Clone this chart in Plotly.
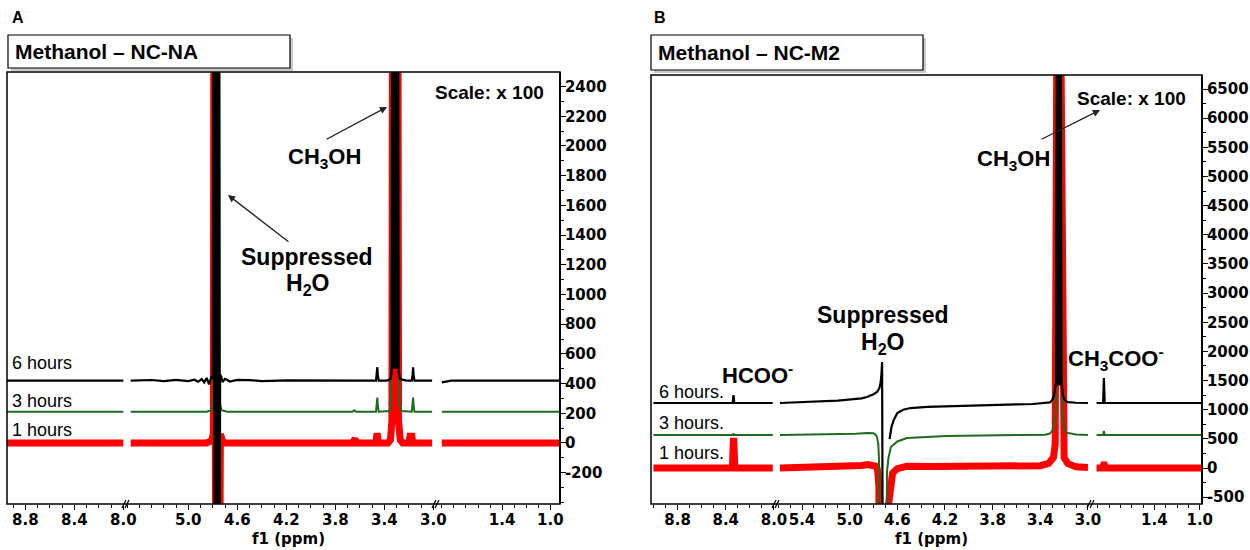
import plotly.graph_objects as go

W, H = 1250, 550

# ---------------- data (ppm / intensity relative to each trace's offset) ----------------
# Panel A : Methanol - NC-NA
A_SEGMENTS = [(8.95, 7.97), (5.50, 2.97), (1.94, 0.92)]
A_XTICKS = [[8.8, 8.4, 8.0], [5.0, 4.6, 4.2, 3.8, 3.4, 3.0], [1.4, 1.0]]
A_YTICKS = list(range(-200, 2401, 200))
A_YRANGE = [-411, 2498]
A_OFFSETS = [420, 210, 0]          # 6 h, 3 h, 1 h
A_LABELS = ["6 hours", "3 hours", "1 hours"]

A_6H_PPM = [8.95, 8.00,
            5.47, 5.30, 5.20, 5.10, 5.00, 4.95, 4.92, 4.89, 4.87, 4.85, 4.83, 4.81, 4.80,
            4.792, 4.785, 4.778, 4.771, 4.764, 4.757, 4.750, 4.744, 4.740,
            4.73, 4.72, 4.70, 4.66, 4.60, 4.50, 4.40, 4.20, 4.00, 3.80, 3.60, 3.50,
            3.468, 3.461, 3.457, 3.453, 3.446, 3.38, 3.35, 3.340,
            3.334, 3.327, 3.320, 3.312, 3.305, 3.297, 3.290,
            3.283, 3.270, 3.22, 3.176, 3.169, 3.165, 3.161, 3.154, 3.10, 3.01,
            1.90, 1.87, 1.82, 1.75, 0.92]
A_6H_VAL = [0, 0,
            0, 4, -4, 5, -3, 6, -8, 10, -12, 18, -25, 30, 10,
            4000, -1500, 4000, -1500, 4000, -1500, 4000, -1500, 40,
            25, -10, 12, -6, 5, 3, -3, 2, 0, 2, 0, 0,
            0, 40, 90, 40, 0, 0, 10, 60,
            4000, 80, 4000, 80, 4000, 80, 4000,
            60, 10, 0, 0, 40, 90, 40, 0, 0, 0,
            -12, -6, 0, 0, 0]

A_3H_PPM = [8.95, 8.00,
            5.47, 4.85, 4.81, 4.795, 4.790, 4.748, 4.742, 4.73, 4.68,
            3.66, 3.645, 3.63, 3.468, 3.461, 3.457, 3.453, 3.446,
            3.36, 3.345, 3.333, 3.291, 3.280, 3.26,
            3.176, 3.169, 3.165, 3.161, 3.154, 3.01,
            1.90, 0.92]
A_3H_VAL = [0, 0,
            0, 0, 10, 60, 4000, 4000, 60, 10, 0,
            0, 10, 0, 0, 45, 95, 45, 0,
            5, 60, 4000, 4000, 60, 5,
            0, 45, 95, 45, 0, 0,
            0, 0]

A_1H_PPM = [8.95, 8.00,
            5.47, 4.85, 4.81, 4.795, 4.790, 4.775, 4.745, 4.738, 4.72, 4.70,
            3.66, 3.645, 3.638, 3.63, 3.47, 3.462, 3.455, 3.447,
            3.37, 3.35, 3.338, 3.332, 3.290, 3.284, 3.27, 3.25,
            3.20, 3.19, 3.175, 3.168, 3.01,
            1.90, 0.92]
A_1H_VAL = [0, 0,
            0, 0, 15, 60, 4000, -1500, -1500, 60, 15, 0,
            0, 30, 30, 0, 0, 45, 45, 0,
            0, 20, 150, 4000, 4000, 150, 20, 0,
            0, 45, 45, 0, 0,
            0, 0]

# Panel B : Methanol - NC-M2
B_SEGMENTS = [(9.02, 7.975), (5.61, 2.966), (1.95, 0.98)]
B_XTICKS = [[8.8, 8.4, 8.0], [5.4, 5.0, 4.6, 4.2, 3.8, 3.4, 3.0], [1.4, 1.0]]
B_YTICKS = list(range(-500, 6501, 500))
B_YRANGE = [-617, 6741]
B_OFFSETS = [1115, 566, 0]
B_LABELS = ["6 hours.", "3 hours.", "1 hours."]

B_6H_PPM = [9.00, 8.343, 8.336, 8.329, 8.01,
            5.585, 5.40, 5.10, 4.90, 4.855, 4.80, 4.77, 4.75, 4.74, 4.733, 4.728, 4.722,
            4.69,
            4.665, 4.65, 4.63, 4.60, 4.55, 4.49, 4.35, 4.16, 3.90, 3.60, 3.46, 3.36,
            3.32, 3.30, 3.285, 3.268,
            3.259, 3.251, 3.244, 3.237, 3.229,
            3.222, 3.21, 3.195, 3.17, 3.10, 3.00,
            1.91, 1.852, 1.845, 1.838, 0.98]
B_6H_VAL = [0, 0, 135, 0, 0,
            0, 15, 40, 80, 103, 150, 190, 260, 350, 500, 703, -3000,
            None,
            -620, -420, -290, -172, -115, -86, -65, -52, -38, -22, -17, -5,
            10, 50, 130, 350,
            7000, 300, 7000, 300, 7000,
            350, 130, 50, 15, 5, 0,
            0, 0, 430, 0, 0]

B_3H_PPM = [9.00, 8.342, 8.336, 8.330, 8.01,
            5.585, 5.20, 4.95, 4.85, 4.80, 4.78, 4.77, 4.76, 4.754, 4.748,
            4.69, 4.687, 4.675, 4.654, 4.60, 4.52, 4.35, 4.19, 3.90, 3.50, 3.36,
            3.32, 3.30, 3.285, 3.272, 3.262, 3.226, 3.216, 3.20, 3.18, 3.10, 3.00,
            1.91, 1.851, 1.845, 1.839, 0.98]
B_3H_VAL = [0, 0, 25, 0, 0,
            0, 8, 20, 35, 30, 0, -40, -150, -400, -3000,
            -3000, -636, -400, -206, -110, -51, -30, -17, -8, 0, 5,
            25, 70, 150, 350, 7000, 7000, 350, 120, 40, 10, 0,
            0, 0, 70, 0, 0]

B_1H_PPM = [9.00, 8.345, 8.337, 8.333, 8.325, 8.01,
            5.585, 5.20, 5.00, 4.90, 4.85, 4.80, 4.775, 4.765, 4.755, 4.750,
            4.69, 4.672, 4.66, 4.64, 4.60, 4.52, 4.30, 4.00, 3.60, 3.40,
            3.33, 3.29, 3.275, 3.262, 3.226, 3.213, 3.20, 3.17, 3.10, 3.00,
            1.91, 1.853, 1.847, 1.841, 1.835, 0.98]
B_1H_VAL = [0, 0, 460, 460, 0, 0,
            0, 10, 25, 45, 60, 55, 30, -50, -300, -3000,
            -3000, -600, -300, -90, -10, 30, 25, 20, 25, 40,
            80, 180, 400, 7000, 7000, 400, 180, 80, 20, 10,
            0, 0, 50, 50, 0, 0]

# ---------------- styling / layout constants ----------------
COLORS = ["#000000", "#1e6a1e", "#ff0000"]   # 6 h, 3 h, 1 h
WIDTHS = [2.2, 2.0, 7.0]
TICK_FONT = dict(family="DejaVu Sans", size=15, color="black", weight="bold")
TXT = "Liberation Sans, Arial"

PANELS = [
    dict(segs=A_SEGMENTS, xticks=A_XTICKS, yticks=A_YTICKS, yrange=A_YRANGE, minor_y=100,
         offsets=A_OFFSETS,
         series=[(A_6H_PPM, A_6H_VAL), (A_3H_PPM, A_3H_VAL), (A_1H_PPM, A_1H_VAL)],
         seg_px=[(7, 127), (127, 437), (437, 560)], top=72, bottom=504),
    dict(segs=B_SEGMENTS, xticks=B_XTICKS, yticks=B_YTICKS, yrange=B_YRANGE, minor_y=250,
         offsets=B_OFFSETS,
         series=[(B_6H_PPM, B_6H_VAL), (B_3H_PPM, B_3H_VAL), (B_1H_PPM, B_1H_VAL)],
         seg_px=[(651, 777), (777, 1092), (1092, 1202)], top=75, bottom=504),
]


def px(x):
    return x / W


def py(y):
    return 1 - y / H


fig = go.Figure()
layout = dict(width=W, height=H, margin=dict(l=0, r=0, t=0, b=0),
              paper_bgcolor="white", plot_bgcolor="white", showlegend=False)
shapes, annotations = [], []

for p, P in enumerate(PANELS):
    ykey = "yaxis" if p == 0 else "yaxis2"
    yref = "y" if p == 0 else "y2"
    x0p, x1p = P["seg_px"][0][0], P["seg_px"][-1][1]
    layout[ykey] = dict(domain=[py(P["bottom"]), py(P["top"])], range=P["yrange"],
                        anchor="free", position=px(x1p), side="right",
                        showgrid=False, zeroline=False, showline=True, linecolor="black",
                        linewidth=1.8, ticks="outside", ticklen=5, tickwidth=1.3,
                        tickcolor="black", tickmode="array", tickvals=P["yticks"],
                        ticktext=[str(v) for v in P["yticks"]], tickfont=TICK_FONT,
                        ticklabelstandoff=-4,
                        minor=dict(ticks="outside", ticklen=3, dtick=P["minor_y"], tick0=0,
                                   tickcolor="black", showgrid=False),
                        automargin=False, fixedrange=True)
    for s, (lo_hi, spx) in enumerate(zip(P["segs"], P["seg_px"])):
        n = p * 3 + s + 1
        xkey = "xaxis" if n == 1 else f"xaxis{n}"
        xref = "x" if n == 1 else f"x{n}"
        layout[xkey] = dict(domain=[px(spx[0]), px(spx[1])], range=list(lo_hi), anchor=yref,
                            showgrid=False, zeroline=False, showline=False,
                            ticks="outside", ticklen=5, tickwidth=1.3, tickcolor="black",
                            tickmode="array", tickvals=P["xticks"][s],
                            ticktext=[f"{v:.1f}" for v in P["xticks"][s]], tickfont=TICK_FONT,
                            ticklabelstandoff=-3,
                            minor=dict(ticks="outside", ticklen=3, dtick=0.1, tick0=0,
                                       tickcolor="black", showgrid=False),
                            automargin=False, fixedrange=True)
        hi, lo = lo_hi[0], lo_hi[1]
        # draw 1 h (red) first, black (6 h) last on top
        for k in [2, 1, 0]:
            ppm, val = P["series"][k]
            xs, ys = [], []
            for a, b in zip(ppm, val):
                if lo <= a <= hi:
                    xs.append(a)
                    ys.append(None if b is None else b + P["offsets"][k])
            if xs:
                fig.add_trace(go.Scatter(x=xs, y=ys, xaxis=xref, yaxis=yref, mode="lines",
                                         line=dict(color=COLORS[k], width=WIDTHS[k]),
                                         hoverinfo="skip", connectgaps=False))
    # frame
    shapes.append(dict(type="rect", xref="paper", yref="paper", x0=px(x0p), x1=px(x1p),
                       y0=py(P["bottom"]), y1=py(P["top"]),
                       line=dict(color="black", width=1.5), layer="above"))
    # axis break marks
    for spx in P["seg_px"][1:]:
        bx = spx[0]
        for dx in (-3, 0):
            shapes.append(dict(type="line", xref="paper", yref="paper",
                               x0=px(bx + dx - 2), y0=py(P["bottom"] + 4),
                               x1=px(bx + dx + 2), y1=py(P["bottom"] - 4),
                               line=dict(color="black", width=1.3), layer="above"))
    # x-axis title
    annotations.append(dict(xref="paper", yref="paper", x=px((x0p + x1p) / 2 + 5), y=py(539),
                            xanchor="center", yanchor="middle",
                            text="f1 (ppm)", showarrow=False,
                            font=dict(family="DejaVu Sans", size=15, color="black", weight="bold")))


def title_box(x0, x1, y0, y1, text):
    shapes.append(dict(type="rect", xref="paper", yref="paper", x0=px(x0 + 3), x1=px(x1 + 3),
                       y0=py(y1 + 3), y1=py(y0 + 3), fillcolor="#c9c9c9",
                       line=dict(width=0), layer="above"))
    shapes.append(dict(type="rect", xref="paper", yref="paper", x0=px(x0), x1=px(x1),
                       y0=py(y1), y1=py(y0), fillcolor="white",
                       line=dict(color="black", width=1.2), layer="above"))
    annotations.append(dict(xref="paper", yref="paper", x=px(x0 + 5), y=py((y0 + y1) / 2),
                            xanchor="left", yanchor="middle", text=f"<b>{text}</b>",
                            showarrow=False, font=dict(family=TXT, size=21, color="black")))


def label(x, y, text, size=22, bold=True, xanchor="center"):
    t = f"<b>{text}</b>" if bold else text
    annotations.append(dict(xref="paper", yref="paper", x=px(x), y=py(y), xanchor=xanchor,
                            yanchor="middle", text=t, showarrow=False,
                            font=dict(family=TXT, size=size, color="black")))


def arrow(tail, head):
    annotations.append(dict(xref="paper", yref="paper", x=px(head[0]), y=py(head[1]),
                            ax=tail[0] - head[0], ay=tail[1] - head[1], text="",
                            showarrow=True, arrowhead=2, arrowsize=1.1, arrowwidth=1.3,
                            arrowcolor="#222"))


label(10, 18, "A", size=16, xanchor="left")
label(652, 18, "B", size=16, xanchor="left")
title_box(8, 290, 35, 68, "Methanol – NC-NA")
title_box(651, 923, 35, 70, "Methanol – NC-M2")

label(489, 93, "Scale: x 100", size=19)
label(1131, 98, "Scale: x 100", size=19)

label(324, 158, "CH<sub>3</sub>OH", size=22)
arrow((325, 140), (387, 107))
label(307, 257, "Suppressed", size=23)
label(307, 284, "H<sub>2</sub>O", size=23)
arrow((290, 243), (228, 195))

label(1013, 160, "CH<sub>3</sub>OH", size=22)
arrow((1040, 140), (1100, 110))
label(883, 315, "Suppressed", size=23)
label(882, 343, "H<sub>2</sub>O", size=23)
label(757, 374, "HCOO<sup>-</sup>", size=22)
label(1116, 358, "CH<sub>3</sub>COO<sup>-</sup>", size=22)

for lab, y in zip(A_LABELS, [363, 401, 430]):
    label(10, y, lab, size=18, bold=False, xanchor="left")
for lab, y in zip(B_LABELS, [392, 423, 453]):
    label(657, y, lab, size=18, bold=False, xanchor="left")

layout["shapes"] = shapes
layout["annotations"] = annotations
fig.update_layout(**layout)
fig.write_html("out.html", config={"displayModeBar": False},
               post_script="document.body.style.margin='0px';document.body.style.padding='0px';")
